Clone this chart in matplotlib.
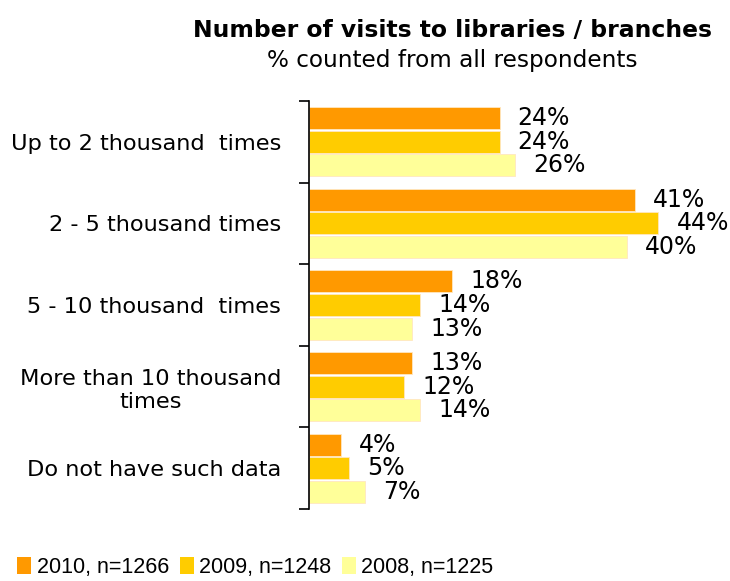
import numpy as np
import matplotlib
matplotlib.use('Agg')
import matplotlib.pyplot as plt
from matplotlib.patches import Patch

categories = ['Up to 2 thousand  times', '2 - 5 thousand times', '5 - 10 thousand  times',
              'More than 10 thousand\ntimes', 'Do not have such data']
series_names = ['2010, n=1266', '2009, n=1248', '2008, n=1225']
vals_2010 = [24, 41, 18, 13, 4]
vals_2009 = [24, 44, 14, 12, 5]
vals_2008 = [26, 40, 13, 14, 7]

bar_colors = ['#ff9900', '#ffcc00', '#ffff99']
offsets = [-0.29, 0.0, 0.29]

fig = plt.figure(figsize=(7.3, 5.81), dpi=100)
ax = fig.add_axes([0.4233, 0.1239, 0.5438, 0.7023])

y = np.arange(len(categories))
for vals, off, col in zip([vals_2010, vals_2009, vals_2008], offsets, bar_colors):
    ax.barh(y + off, vals, height=0.27, color=col, edgecolor='#ffe7c0', linewidth=0.6)
    for yi, v in zip(y, vals):
        ax.annotate('%d%%' % v, xy=(v, yi + off), xytext=(13, 0), textcoords='offset points',
                    ha='left', va='center', fontsize=17)

ax.set_xlim(0, 50)
ax.set_ylim(len(categories) - 0.5, -0.5)
ax.set_xticks([])
for s in ['top', 'right', 'bottom']:
    ax.spines[s].set_visible(False)
ax.spines['left'].set_linewidth(1.2)

# boundaries get the tick marks, centers get the labels
ax.set_yticks(np.arange(len(categories) + 1) - 0.5)
ax.set_yticklabels([])
ax.tick_params(axis='y', which='major', length=7, width=1.2, direction='out')
ax.set_yticks(y, minor=True)
ax.set_yticklabels(categories, minor=True, fontsize=16.2, ha='right', multialignment='center')
ax.tick_params(axis='y', which='minor', length=0, pad=20)

fig.text(0.62, 0.948, 'Number of visits to libraries / branches', ha='center', va='center',
         fontsize=16.9, fontweight='bold')
fig.text(0.62, 0.896, '% counted from all respondents', ha='center', va='center', fontsize=16.7)

handles = [Patch(facecolor=c, edgecolor='none') for c in bar_colors]
fig.legend(handles, series_names, loc='lower left', bbox_to_anchor=(-0.003, -0.028), ncol=3,
           frameon=False, prop={'family': 'Liberation Sans', 'size': 15.5},
           handlelength=0.65, handleheight=0.85, handletextpad=0.25, columnspacing=0.5)

fig.savefig('out.png', dpi=100)
